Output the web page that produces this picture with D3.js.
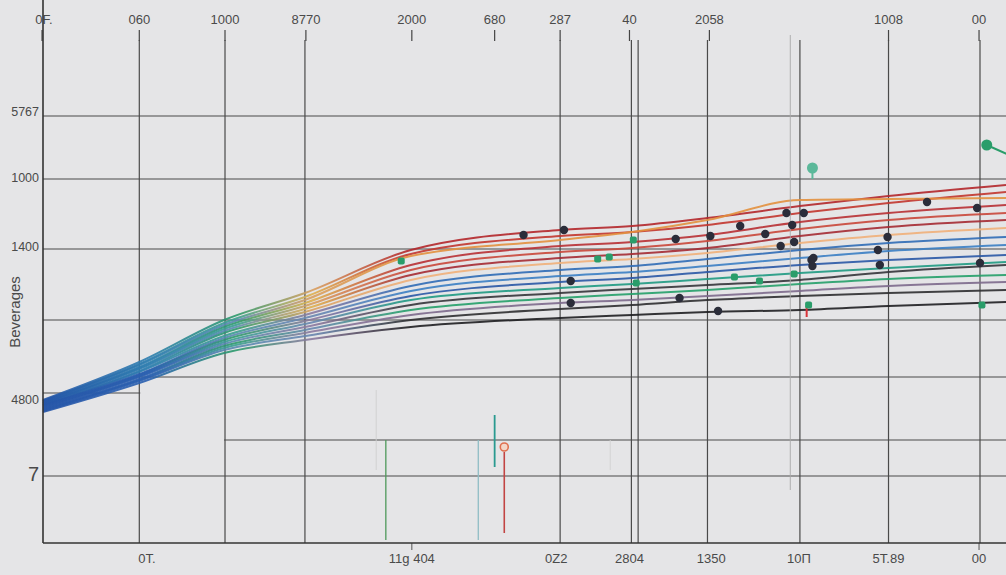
<!DOCTYPE html>
<html>
<head>
<meta charset="utf-8">
<script src="https://cdn.jsdelivr.net/npm/d3@7"></script>
<style>
  html, body { margin: 0; padding: 0; background: #e5e5e7; }
  svg { display: block; }
  text { font-family: "Liberation Sans Narrow", "Liberation Sans", sans-serif; fill: #4a4a4a; }
</style>
</head>
<body>
<svg id="chart" width="1006" height="575"></svg>
<script>
// ---------------- DATA ----------------
const xSamples = [0, 100, 188, 272, 382, 537, 612, 690, 786, 878, 1000];

const seriesNames = ["s1","s2","s3","s4","s5","s6","s7","s8","s9","s10","s11","s12","s13","s14","s15","s16"];
const seriesColors = ["#b3272b","#c2362e","#e3913f","#b83034","#c9473a","#a52b33","#f0b07a","#2f6cb6","#3b7fc4","#2a58a6","#1f9a82","#35353a","#25a06a","#7d6a8c","#2e2e30","#1f1f22"];
const seriesValues = [
  [143,181,223,250,293,313,317,325,337,347,358],
  [142,179,220,246,289,307,311,318,330,340,351],
  [142,178,218,243,287,303,311,323,343,344,345],
  [141,176,216,240,278,297,301,308,321,330,338],
  [140,175,214,237,273,291,295,302,314,323,330],
  [140,174,212,234,268,285,289,295,307,316,323],
  [139,172,210,231,263,280,284,290,300,308,315],
  [138,171,207,228,257,273,277,284,293,300,306],
  [138,169,205,225,252,267,271,277,285,292,298],
  [137,168,203,222,247,261,265,271,278,283,288],
  [136,167,201,219,243,255,259,264,270,275,281],
  [135,166,199,216,238,250,254,258,263,271,278],
  [134,164,197,213,233,245,249,253,259,264,268],
  [133,163,195,210,228,240,243,247,252,257,261],
  [132,162,193,207,223,234,238,243,247,250,253],
  [131,160,190,203,216,225,228,231,233,237,241]
];

// dark markers [x, y]
const darkDots = [
  [499,308],[541,313],[548,262],[548,240],[657,304],[693,307],[724,317],[750,309],[772,330],[778,318],
  [766,297],[780,301],[790,330],[798,283],[799,277],[800,285],[918,341],[970,335],[877,306],[867,293],
  [869,278],[973,280],[661,245],[701,232]
];
const greenDots = [[795,238],[718,266],[744,262],[780,269],[372,282],[613,303],[616,260],[576,284],[588,286],[975,238]];
const balloons = [[799,375,"#5bb89a"],[980,398,"#2a9d6a"]];

// thin vertical stems [x, yTop, yBottom, color, width]
const stems = [
  [356,103,3,"#4f9a5c",1.3],
  [452,103,3,"#8fbcc4",1.3],
  [469,128,76,"#2a9a90",1.8],
  [479,91,10,"#c24444",1.6],
  [776,508,53,"#a8a8a8",0.9],
  [346,153,73,"#cfcfcf",0.9],
  [589,103,73,"#d0d0d0",0.9],
  [793,236,226,"#d8343a",2]
];
const ringMarker = [479,96];

// grid
const vGrid = [100,189,272,537,611,618,690,786,878,973];
const vGridTop = 503;
const hGrid = [[0,1000,427],[0,1000,364],[0,1000,294],[0,1000,223],[101,1000,166],[0,101,150],[188,1000,103],[0,1000,67]];

const topTickX = [-1,100,189,273,383,469,537,609,692,878,972];
const topTickLabels = ["0F.","060","1000","8770","2000","680","287","40","2058","1008","00"];
const bottomTickX = [108,383,533,609,694,785,878,972];
const bottomTickLabels = ["0T.","11g 404","0Z2","2804","1350","10П","5T.89","00"];
const leftTickY = [431,365,296,143,69];
const leftTickLabels = ["5767","1000","1400","4800","7"];
const yTitle = "Beverages";

// ---------------- CHART ----------------
const svg = d3.select("#chart");
const W = 1006, H = 575;
const x = d3.scaleLinear().domain([0, 1000]).range([43, 1006]);
const y = d3.scaleLinear().domain([0, 500]).range([543, 43]);

svg.append("rect").attr("width", W).attr("height", H).attr("fill", "#e5e5e7");

// horizontal grid
svg.append("g").selectAll("line").data(hGrid).join("line")
  .attr("x1", d => x(d[0])).attr("x2", d => x(d[1]))
  .attr("y1", d => y(d[2])).attr("y2", d => y(d[2]))
  .attr("stroke", "#4a4a4a").attr("stroke-width", 1.2);

// vertical grid
svg.append("g").selectAll("line").data(vGrid).join("line")
  .attr("x1", d => x(d)).attr("x2", d => x(d))
  .attr("y1", y(vGridTop)).attr("y2", y(0))
  .attr("stroke", "#4a4a4a").attr("stroke-width", 1.2);

// top ticks & labels
const topG = svg.append("g");
topG.selectAll("line").data(topTickX).join("line")
  .attr("x1", d => x(d)).attr("x2", d => x(d))
  .attr("y1", 30).attr("y2", 41)
  .attr("stroke", "#444").attr("stroke-width", 1.2);
topG.selectAll("text").data(topTickLabels).join("text")
  .attr("x", (d, i) => x(topTickX[i]) + (i === 0 ? 2 : 0)).attr("y", 24)
  .attr("text-anchor", "middle").attr("font-size", 13).text(d => d);

// bottom labels
const botG = svg.append("g");
botG.selectAll("line").data([383, 972]).join("line")
  .attr("x1", d => x(d)).attr("x2", d => x(d))
  .attr("y1", y(0)).attr("y2", y(0) + 7)
  .attr("stroke", "#555").attr("stroke-width", 1);
botG.selectAll("text").data(bottomTickLabels).join("text")
  .attr("x", (d, i) => x(bottomTickX[i])).attr("y", 563)
  .attr("text-anchor", "middle").attr("font-size", 13).text(d => d);

// left labels
svg.append("g").selectAll("text").data(leftTickLabels).join("text")
  .attr("x", 39).attr("y", (d, i) => y(leftTickY[i]) + 4)
  .attr("text-anchor", "end")
  .attr("font-size", (d) => d === "7" ? 20 : 12.5)
  .attr("dy", d => d === "7" ? 3 : 0)
  .text(d => d);

svg.append("text")
  .attr("transform", `translate(20, ${y(231)}) rotate(-90)`)
  .attr("text-anchor", "middle").attr("font-size", 15).attr("fill", "#555")
  .text(yTitle);

// gradients
const defs = svg.append("defs");
seriesNames.forEach((n, i) => {
  const g = defs.append("linearGradient").attr("id", "grad-" + n)
    .attr("gradientUnits", "userSpaceOnUse")
    .attr("x1", x(0)).attr("x2", x(1000)).attr("y1", 0).attr("y2", 0);
  const c = seriesColors[i];
  g.append("stop").attr("offset", 0).attr("stop-color", "#2555a8");
  g.append("stop").attr("offset", 0.11).attr("stop-color", i < 8 ? "#2f7fb0" : "#2a60b0");
  g.append("stop").attr("offset", 0.2).attr("stop-color", i % 3 === 0 ? "#2c9a6c" : (i % 3 === 1 ? "#3aa090" : "#5a8ab0"));
  g.append("stop").attr("offset", 0.28).attr("stop-color", i < 7 ? (i % 2 ? "#e0b050" : "#d9a060") : (i % 2 ? "#8c7aa0" : "#6a86b0"));
  g.append("stop").attr("offset", 0.38).attr("stop-color", c);
  g.append("stop").attr("offset", 1).attr("stop-color", c);
});

// lines
const line = d3.line().x((d, i) => x(xSamples[i])).y(d => y(d)).curve(d3.curveMonotoneX);
svg.append("g").selectAll("path").data(seriesValues).join("path")
  .attr("d", d => line(d))
  .attr("fill", "none")
  .attr("stroke", (d, i) => `url(#grad-${seriesNames[i]})`)
  .attr("stroke-width", 2)
  .attr("stroke-opacity", 0.9);

// stems
svg.append("g").selectAll("line").data(stems).join("line")
  .attr("x1", d => x(d[0])).attr("x2", d => x(d[0]))
  .attr("y1", d => y(d[1])).attr("y2", d => y(d[2]))
  .attr("stroke", d => d[3]).attr("stroke-width", d => d[4]);
svg.append("circle")
  .attr("cx", x(ringMarker[0])).attr("cy", y(ringMarker[1])).attr("r", 4)
  .attr("fill", "#f3d6c8").attr("stroke", "#e07050").attr("stroke-width", 1.6);

// balloons
const bal = svg.append("g");
bal.selectAll("line").data(balloons).join("line")
  .attr("x1", d => x(d[0])).attr("x2", d => x(d[0]) + (d[0] > 900 ? 20 : 0))
  .attr("y1", d => y(d[1])).attr("y2", d => y(d[1]) + (d[0] > 900 ? 9 : 11))
  .attr("stroke", d => d[2]).attr("stroke-width", 2);
bal.selectAll("circle").data(balloons).join("circle")
  .attr("cx", d => x(d[0])).attr("cy", d => y(d[1])).attr("r", 5.5)
  .attr("fill", d => d[2]);

// green markers
svg.append("g").selectAll("rect").data(greenDots).join("rect")
  .attr("x", d => x(d[0]) - 3.5).attr("y", d => y(d[1]) - 3.5)
  .attr("width", 7).attr("height", 7).attr("rx", 2)
  .attr("fill", "#2a9d6a");

// dark markers
svg.append("g").selectAll("circle").data(darkDots).join("circle")
  .attr("cx", d => x(d[0])).attr("cy", d => y(d[1])).attr("r", 4.2)
  .attr("fill", "#2b2d3a");

// axes
svg.append("line").attr("x1", x(0)).attr("x2", x(0)).attr("y1", 0).attr("y2", y(0))
  .attr("stroke", "#333").attr("stroke-width", 1.6);
svg.append("line").attr("x1", x(0)).attr("x2", x(1000)).attr("y1", y(0)).attr("y2", y(0))
  .attr("stroke", "#333").attr("stroke-width", 1.6);
</script>
</body>
</html>
